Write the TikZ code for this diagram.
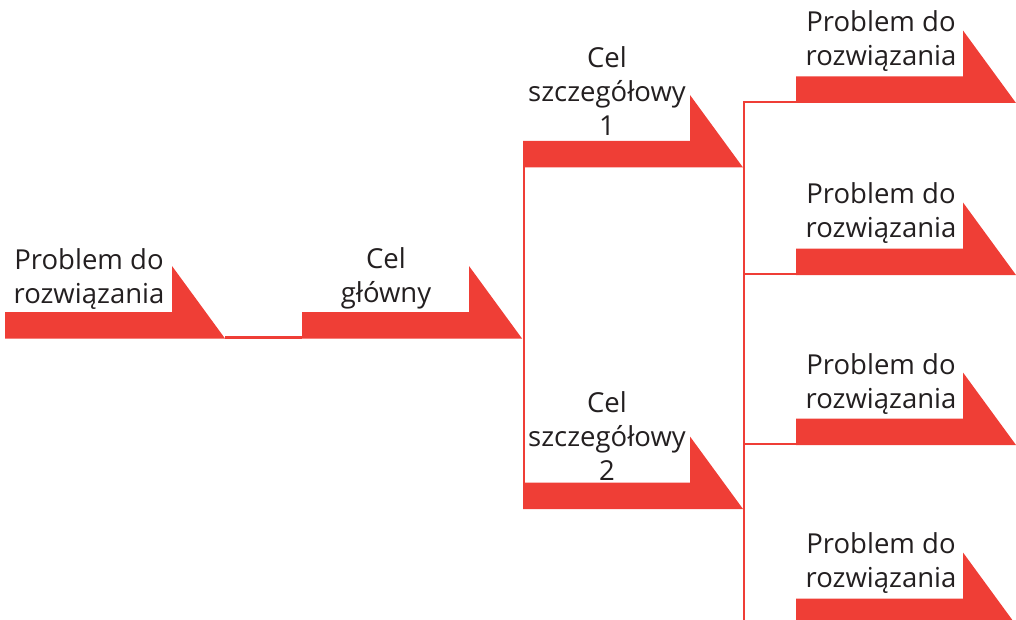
\documentclass[tikz,border=0pt]{standalone}
\usepackage{fontspec}
\setmainfont{Open Sans}
\definecolor{ared}{RGB}{239,62,54}
\definecolor{txt}{RGB}{35,31,32}
\tikzset{
  harrow/.pic={
    \fill[ared] (-220,0) -- (0,0) -- (-53,-72.5) -- (-53,-26.5) -- (-220,-26.5) -- cycle;
    \coordinate (-tip) at (0,0);
    \coordinate (-left) at (-220,0);
  },
  conn/.style={draw=ared, line width=2.2pt},
  lbl/.style={anchor=base, inner sep=0pt, text=txt, font=\fontsize{27.5}{34}\selectfont},
}
\newcommand{\lines}[1]{\begin{tabular}[t]{@{}c@{}}#1\end{tabular}}
\begin{document}
\begin{tikzpicture}[x=1pt,y=-1pt]
\useasboundingbox (0,0) rectangle (1016,620);
\clip (0,0) rectangle (1016,620);
% arrows
\pic (P0) at (225,338.5) {harrow};
\pic (G) at (522,338.5) {harrow};
\pic (C1) at (743,167.5) {harrow};
\pic (C2) at (743,509) {harrow};
\pic (R1) at (1016,103) {harrow};
\pic (R2) at (1016,275) {harrow};
\pic (R3) at (1016,445) {harrow};
\pic (R4) at (1016,625) {harrow};
% junctions
\coordinate (J1) at (R1-left -| C1-tip);
\coordinate (J2) at (R2-left -| C1-tip);
\coordinate (J3) at (R3-left -| C1-tip);
\coordinate (J4) at (R4-left -| C1-tip);
% connectors
\draw[conn] ([yshift=1pt]P0-tip) -- ([yshift=1pt]G-left);
\draw[conn] ([xshift=1pt]C1-left) -- ([xshift=1pt]C2-left);
\draw[conn] ([yshift=1pt]R1-left) -- ([xshift=1pt,yshift=1pt]J1) -- ([xshift=1pt]J4);
\draw[conn] ([yshift=1pt]R2-left) -- ([xshift=1pt,yshift=1pt]J2);
\draw[conn] ([yshift=1pt]R3-left) -- ([xshift=1pt,yshift=1pt]J3);
\draw[conn] ([yshift=1pt]R4-left) -- ([xshift=1pt,yshift=1pt]J4);
% labels
\node[lbl] (tP0) at (89,269) {\lines{Problem do\\rozwiązania}};
\node[lbl] (tG) at (386,268) {\lines{Cel\\główny}};
\node[lbl] (tC1) at (607,68) {\lines{Cel\\szczegółowy\\1}};
\node[lbl] (tC2) at (607,412) {\lines{Cel\\szczegółowy\\2}};
\node[lbl] (tR1) at (881,32) {\lines{Problem do\\rozwiązania}};
\node[lbl] (tR2) at (881,204) {\lines{Problem do\\rozwiązania}};
\node[lbl] (tR3) at (881,374) {\lines{Problem do\\rozwiązania}};
\node[lbl] (tR4) at (881,553) {\lines{Problem do\\rozwiązania}};
\end{tikzpicture}
\end{document}
